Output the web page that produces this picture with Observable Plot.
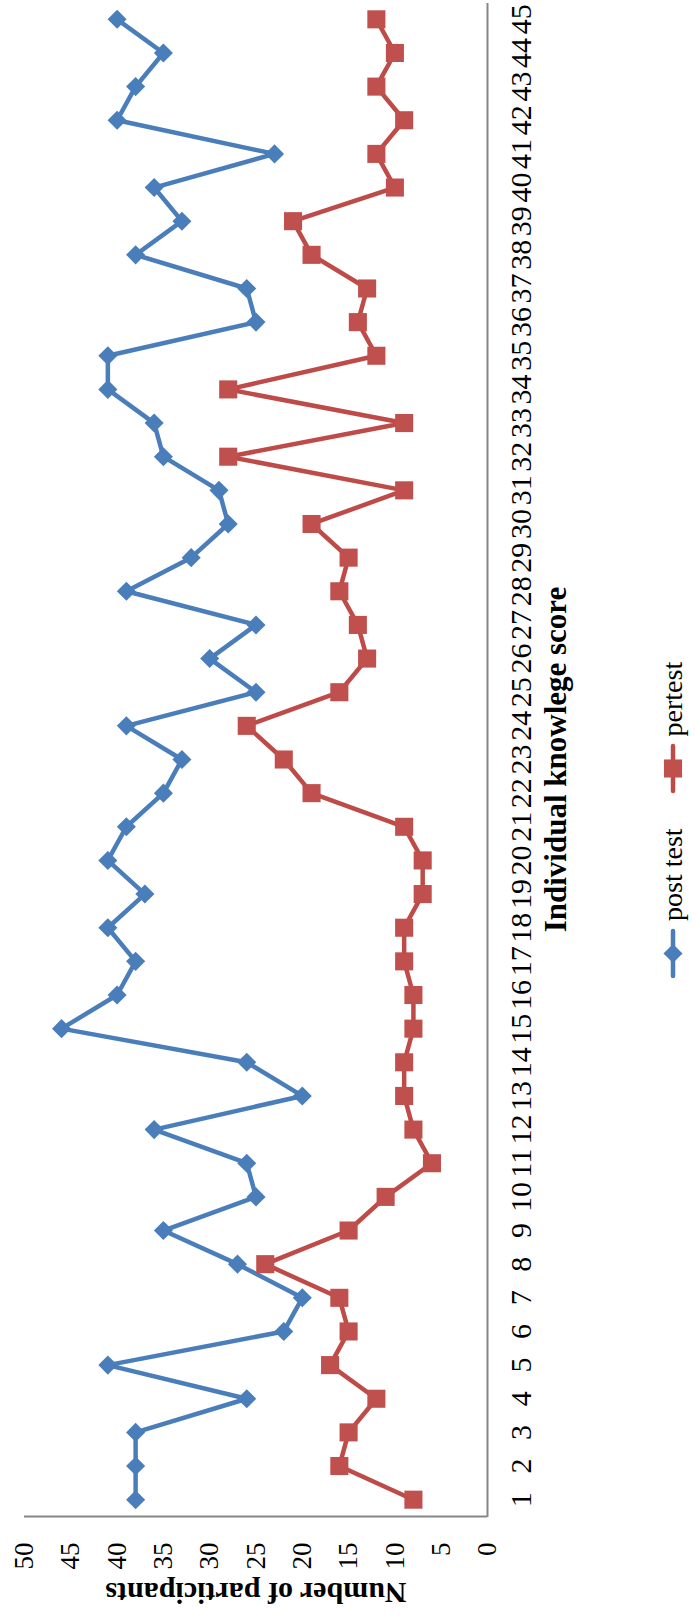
<!DOCTYPE html>
<html>
<head>
<meta charset="utf-8">
<script src="https://cdn.jsdelivr.net/npm/d3@7"></script>
<script src="https://cdn.jsdelivr.net/npm/@observablehq/plot@0.6"></script>
<style>
  html, body { margin: 0; padding: 0; background: #fff; overflow: hidden; }
  /* The chart is laid out landscape and turned a quarter turn counter-clockwise */
  #figure {
    position: absolute; left: 0; top: 0;
    width: 1618px; height: 695px;
    transform-origin: 0 0;
    transform: translate(0, 1618px) rotate(-90deg);
    font-family: "Liberation Serif", "Times New Roman", serif;
    background: #fff; color: #000;
  }
  #legend {
    display: flex; align-items: center;
    height: 32px; margin-top: 57px; padding-left: 641px;
    font-size: 28px; line-height: 32px;
  }
  .item { display: flex; align-items: center; }
  .item svg { margin-right: 9px; overflow: visible; }
  .item + .item { margin-left: 36px; }
</style>
</head>
<body>
<div id="figure"></div>
<script>
// Individual knowledge score (categories along the axis)
const scores = [1, 2, 3, 4, 5, 6, 7, 8, 9, 10, 11, 12, 13, 14, 15, 16, 17, 18, 19, 20,
  21, 22, 23, 24, 25, 26, 27, 28, 29, 30, 31, 32, 33, 34, 35, 36, 37, 38, 39, 40,
  41, 42, 43, 44, 45];

// Number of participants per score
const postTest = [38, 38, 38, 26, 41, 22, 20, 27, 35, 25, 26, 36, 20, 26, 46, 40, 38, 41, 37, 41,
  39, 35, 33, 39, 25, 30, 25, 39, 32, 28, 29, 35, 36, 41, 41, 25, 26, 38, 33, 36,
  23, 40, 38, 35, 40];
const preTest = [8, 16, 15, 12, 17, 15, 16, 24, 15, 11, 6, 8, 9, 9, 8, 8, 9, 9, 7, 7,
  9, 19, 22, 26, 16, 13, 14, 16, 15, 19, 9, 28, 9, 28, 12, 14, 13, 19, 21, 10,
  12, 9, 12, 10, 12];

const valueTicks = [0, 5, 10, 15, 20, 25, 30, 35, 40, 45, 50];

const seriesNames = ["post test", "pertest"];
const lineColors = ["#4A7EBB", "#BE4B48"];
const markerColors = ["#4A7EBB", "#C0504D"];
const markerSymbols = ["diamond2", "square"];
const markerRadii = [8.6, 10.2];

const rows = [];
[postTest, preTest].forEach((values, i) => {
  values.forEach((v, k) => rows.push({score: scores[k], value: v, series: seriesNames[i]}));
});

const axisGrey = "#868686";
const serif = "Liberation Serif, Times New Roman, serif";

const marks = [
  Plot.ruleY([0], {stroke: axisGrey, strokeWidth: 2}),
  Plot.ruleX([0.5], {stroke: axisGrey, strokeWidth: 2}),
  Plot.axisX({ticks: scores, tickSize: 0, tickPadding: 22, fontSize: 30, label: null, tickFormat: d => String(d)}),
  Plot.axisY({ticks: valueTicks, tickSize: 0, tickPadding: 26, fontSize: 27, label: null}),
  Plot.text(["Individual knowlege score"], {frameAnchor: "bottom", dy: 78, fontSize: 31, fontWeight: "bold", fill: "#000"}),
  Plot.text(["Number of participants"], {frameAnchor: "left", textAnchor: "middle", lineAnchor: "middle", rotate: -90, dx: -76, fontSize: 30, fontWeight: "bold", fill: "#000"})
];

seriesNames.forEach((name, i) => {
  const data = rows.filter(d => d.series === name);
  marks.push(
    Plot.line(data, {x: "score", y: "value", stroke: lineColors[i], strokeWidth: 4.5, strokeLinejoin: "round"}),
    Plot.dot(data, {x: "score", y: "value", symbol: markerSymbols[i], r: markerRadii[i], fill: markerColors[i], stroke: "none"})
  );
});

const chart = Plot.plot({
  width: 1618,
  height: 600,
  marginLeft: 101,
  marginRight: 3,
  marginTop: 24,
  marginBottom: 113,
  x: {type: "linear", domain: [0.5, 45.5]},
  y: {domain: [0, 50]},
  style: {fontFamily: serif, background: "white", color: "black", overflow: "visible"},
  marks
});

const figure = document.getElementById("figure");
figure.appendChild(chart);

// Legend: line swatch with marker, then the series name
const legend = document.createElement("div");
legend.id = "legend";
seriesNames.forEach((name, i) => {
  const item = document.createElement("div");
  item.className = "item";
  const sw = d3.create("svg").attr("width", 47).attr("height", 24);
  sw.append("line").attr("x1", 1).attr("x2", 46).attr("y1", 12).attr("y2", 12)
    .attr("stroke", lineColors[i]).attr("stroke-width", 4.5).attr("stroke-linecap", "round");
  const size = Math.PI * markerRadii[i] * markerRadii[i];
  const sym = i === 0 ? d3.symbolDiamond2 : d3.symbolSquare;
  sw.append("path").attr("d", d3.symbol(sym, size)()).attr("transform", "translate(23.5,12)")
    .attr("fill", markerColors[i]);
  item.appendChild(sw.node());
  const label = document.createElement("span");
  label.textContent = name;
  item.appendChild(label);
  legend.appendChild(item);
});
figure.appendChild(legend);
</script>
</body>
</html>
